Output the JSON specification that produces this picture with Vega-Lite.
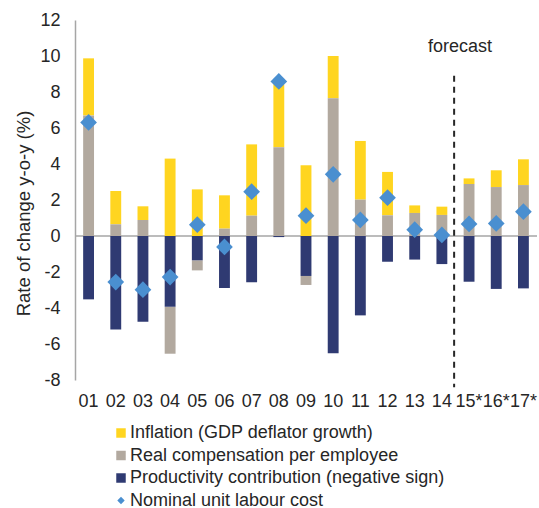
{
  "$schema": "https://vega.github.io/schema/vega-lite/v6.json",
  "width": 462,
  "height": 360,
  "autosize": {"type": "none"},
  "padding": {"left": 75, "top": 20, "right": 2, "bottom": 128},
  "background": "white",
  "config": {
    "view": {"stroke": null},
    "font": "Liberation Sans",
    "axis": {"labelFont": "Liberation Sans", "titleFont": "Liberation Sans", "labelColor": "#262626", "titleColor": "#262626", "grid": false},
    "legend": {"labelFont": "Liberation Sans", "labelColor": "#262626"}
  },
  "datasets": {
    "rows": [
      {"year": "01", "series": "Inflation (GDP deflator growth)", "value": 3.17},
      {"year": "01", "series": "Real compensation per employee", "value": 6.70},
      {"year": "01", "series": "Productivity contribution (negative sign)", "value": -3.52},
      {"year": "01", "series": "Nominal unit labour cost", "value": 6.31},
      {"year": "02", "series": "Inflation (GDP deflator growth)", "value": 1.85},
      {"year": "02", "series": "Real compensation per employee", "value": 0.65},
      {"year": "02", "series": "Productivity contribution (negative sign)", "value": -5.19},
      {"year": "02", "series": "Nominal unit labour cost", "value": -2.56},
      {"year": "03", "series": "Inflation (GDP deflator growth)", "value": 0.76},
      {"year": "03", "series": "Real compensation per employee", "value": 0.89},
      {"year": "03", "series": "Productivity contribution (negative sign)", "value": -4.76},
      {"year": "03", "series": "Nominal unit labour cost", "value": -2.98},
      {"year": "04", "series": "Inflation (GDP deflator growth)", "value": 4.30},
      {"year": "04", "series": "Real compensation per employee", "value": -2.61},
      {"year": "04", "series": "Productivity contribution (negative sign)", "value": -3.93},
      {"year": "04", "series": "Nominal unit labour cost", "value": -2.28},
      {"year": "05", "series": "Inflation (GDP deflator growth)", "value": 2.59},
      {"year": "05", "series": "Real compensation per employee", "value": -0.56},
      {"year": "05", "series": "Productivity contribution (negative sign)", "value": -1.35},
      {"year": "05", "series": "Nominal unit labour cost", "value": 0.63},
      {"year": "06", "series": "Inflation (GDP deflator growth)", "value": 1.85},
      {"year": "06", "series": "Real compensation per employee", "value": 0.41},
      {"year": "06", "series": "Productivity contribution (negative sign)", "value": -2.89},
      {"year": "06", "series": "Nominal unit labour cost", "value": -0.61},
      {"year": "07", "series": "Inflation (GDP deflator growth)", "value": 3.96},
      {"year": "07", "series": "Real compensation per employee", "value": 1.13},
      {"year": "07", "series": "Productivity contribution (negative sign)", "value": -2.57},
      {"year": "07", "series": "Nominal unit labour cost", "value": 2.46},
      {"year": "08", "series": "Inflation (GDP deflator growth)", "value": 3.50},
      {"year": "08", "series": "Real compensation per employee", "value": 4.93},
      {"year": "08", "series": "Productivity contribution (negative sign)", "value": -0.06},
      {"year": "08", "series": "Nominal unit labour cost", "value": 8.59},
      {"year": "09", "series": "Inflation (GDP deflator growth)", "value": 3.93},
      {"year": "09", "series": "Real compensation per employee", "value": -0.50},
      {"year": "09", "series": "Productivity contribution (negative sign)", "value": -2.22},
      {"year": "09", "series": "Nominal unit labour cost", "value": 1.13},
      {"year": "10", "series": "Inflation (GDP deflator growth)", "value": 2.35},
      {"year": "10", "series": "Real compensation per employee", "value": 7.65},
      {"year": "10", "series": "Productivity contribution (negative sign)", "value": -6.52},
      {"year": "10", "series": "Nominal unit labour cost", "value": 3.43},
      {"year": "11", "series": "Inflation (GDP deflator growth)", "value": 3.26},
      {"year": "11", "series": "Real compensation per employee", "value": 2.02},
      {"year": "11", "series": "Productivity contribution (negative sign)", "value": -4.41},
      {"year": "11", "series": "Nominal unit labour cost", "value": 0.89},
      {"year": "12", "series": "Inflation (GDP deflator growth)", "value": 2.41},
      {"year": "12", "series": "Real compensation per employee", "value": 1.15},
      {"year": "12", "series": "Productivity contribution (negative sign)", "value": -1.43},
      {"year": "12", "series": "Nominal unit labour cost", "value": 2.13},
      {"year": "13", "series": "Inflation (GDP deflator growth)", "value": 0.42},
      {"year": "13", "series": "Real compensation per employee", "value": 1.28},
      {"year": "13", "series": "Productivity contribution (negative sign)", "value": -1.31},
      {"year": "13", "series": "Nominal unit labour cost", "value": 0.35},
      {"year": "14", "series": "Inflation (GDP deflator growth)", "value": 0.46},
      {"year": "14", "series": "Real compensation per employee", "value": 1.17},
      {"year": "14", "series": "Productivity contribution (negative sign)", "value": -1.56},
      {"year": "14", "series": "Nominal unit labour cost", "value": 0.06},
      {"year": "15*", "series": "Inflation (GDP deflator growth)", "value": 0.31},
      {"year": "15*", "series": "Real compensation per employee", "value": 2.89},
      {"year": "15*", "series": "Productivity contribution (negative sign)", "value": -2.54},
      {"year": "15*", "series": "Nominal unit labour cost", "value": 0.67},
      {"year": "16*", "series": "Inflation (GDP deflator growth)", "value": 0.93},
      {"year": "16*", "series": "Real compensation per employee", "value": 2.72},
      {"year": "16*", "series": "Productivity contribution (negative sign)", "value": -2.94},
      {"year": "16*", "series": "Nominal unit labour cost", "value": 0.70},
      {"year": "17*", "series": "Inflation (GDP deflator growth)", "value": 1.43},
      {"year": "17*", "series": "Real compensation per employee", "value": 2.83},
      {"year": "17*", "series": "Productivity contribution (negative sign)", "value": -2.91},
      {"year": "17*", "series": "Nominal unit labour cost", "value": 1.35}
    ],
    "stackOrder": [
      {"series": "Productivity contribution (negative sign)", "rank": 1},
      {"series": "Real compensation per employee", "rank": 2},
      {"series": "Inflation (GDP deflator growth)", "rank": 3}
    ],
    "forecast": [{"year": "15*", "label": "forecast", "ytext": 10.5, "ytop": 8.9, "ybottom": -8.4}],
    "zero": [{"v": 0}]
  },
  "encoding": {
    "x": {
      "field": "year",
      "type": "ordinal",
      "scale": {"paddingInner": 0.6, "paddingOuter": 0.3},
      "axis": {"title": null, "domain": false, "ticks": false, "labelAngle": 0, "labelFontSize": 18, "labelPadding": 12}
    }
  },
  "layer": [
    {
      "data": {"name": "zero"},
      "mark": {"type": "rule", "color": "#A6A6A6", "strokeWidth": 1.5},
      "encoding": {
        "x": null,
        "y": {
          "field": "v",
          "type": "quantitative",
          "scale": {"domain": [-8, 12]},
          "axis": {"title": "Rate of change y-o-y (%)", "values": [-8, -6, -4, -2, 0, 2, 4, 6, 8, 10, 12], "tickCount": 11, "labelExpr": "'' + datum.value", "labelOverlap": false, "domainColor": "#A6A6A6", "domainWidth": 1.5, "ticks": false, "labelFontSize": 18, "labelPadding": 15, "titleFontSize": 18.5, "titleFontWeight": "normal", "titlePadding": 6, "titleY": 193}
        }
      }
    },
    {
      "data": {"name": "rows"},
      "transform": [
        {"filter": "datum.series !== 'Nominal unit labour cost'"},
        {"lookup": "series", "from": {"data": {"name": "stackOrder"}, "key": "series", "fields": ["rank"]}}
      ],
      "mark": {"type": "bar"},
      "encoding": {
        "y": {
          "field": "value",
          "type": "quantitative",
          "stack": "zero",
          "scale": {"domain": [-8, 12]},
          "axis": {"title": "Rate of change y-o-y (%)", "values": [-8, -6, -4, -2, 0, 2, 4, 6, 8, 10, 12], "tickCount": 11, "labelExpr": "'' + datum.value", "labelOverlap": false, "domainColor": "#A6A6A6", "domainWidth": 1.5, "ticks": false, "labelFontSize": 18, "labelPadding": 15, "titleFontSize": 18.5, "titleFontWeight": "normal", "titlePadding": 6, "titleY": 193}
        },
        "color": {
          "field": "series",
          "type": "nominal",
          "scale": {
            "domain": ["Inflation (GDP deflator growth)", "Real compensation per employee", "Productivity contribution (negative sign)", "Nominal unit labour cost"],
            "range": ["#FFD520", "#B2A99F", "#2F3A72", "#4A8FD0"]
          },
          "legend": {
            "title": null,
            "orient": "none",
            "legendX": 37,
            "legendY": 404,
            "direction": "vertical",
            "labelFontSize": 18,
            "labelLimit": 0,
            "labelOffset": 0,
            "rowPadding": 4.5,
            "symbolSize": 90,
            "symbolStrokeWidth": 0,
            "encode": {
              "symbols": {
                "update": {
                  "shape": {"signal": "datum.value === 'Nominal unit labour cost' ? 'diamond' : 'square'"},
                  "size": {"signal": "datum.value === 'Nominal unit labour cost' ? 55 : 90"},
                  "strokeWidth": {"value": 0}
                }
              }
            }
          }
        },
        "order": {"field": "rank", "type": "quantitative", "sort": "ascending"}
      }
    },
    {
      "data": {"name": "rows"},
      "transform": [{"filter": "datum.series === 'Nominal unit labour cost'"}],
      "mark": {"type": "point", "shape": "diamond", "filled": true, "size": 280, "opacity": 1},
      "encoding": {
        "y": {"field": "value", "type": "quantitative"},
        "color": {"field": "series", "type": "nominal"}
      }
    },
    {
      "data": {"name": "forecast"},
      "mark": {"type": "rule", "color": "#262626", "strokeWidth": 2, "strokeDash": [6, 5], "xOffset": -9.5},
      "encoding": {
        "x": {"field": "year", "type": "ordinal", "bandPosition": 0},
        "y": {"field": "ytop", "type": "quantitative"},
        "y2": {"field": "ybottom"}
      }
    },
    {
      "data": {"name": "forecast"},
      "mark": {"type": "text", "fontSize": 18, "dx": -9, "color": "#262626", "baseline": "middle", "align": "center"},
      "encoding": {
        "y": {"field": "ytext", "type": "quantitative"},
        "text": {"field": "label"}
      }
    }
  ]
}
